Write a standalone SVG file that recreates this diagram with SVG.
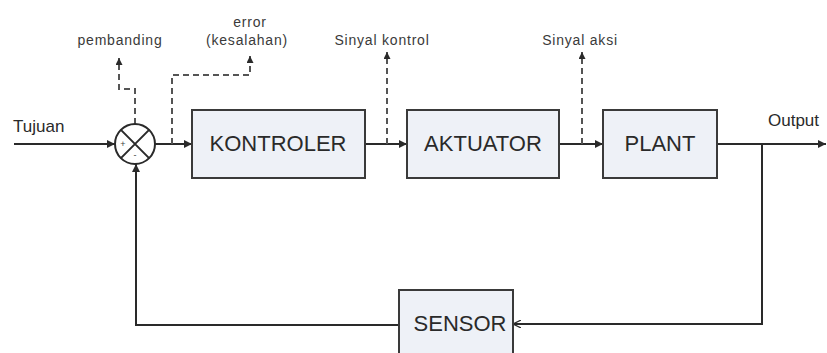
<svg xmlns="http://www.w3.org/2000/svg" width="827" height="353" viewBox="0 0 827 353">
<defs>
<marker id="ah" viewBox="0 0 10 10" refX="10" refY="5" markerWidth="10" markerHeight="8" markerUnits="userSpaceOnUse" orient="auto">
<path d="M0,0 L10,5 L0,10 Z" fill="#2a2a2a"/>
</marker>
<marker id="ahs" viewBox="0 0 10 10" refX="10" refY="5" markerWidth="8" markerHeight="7" markerUnits="userSpaceOnUse" orient="auto">
<path d="M0,0 L10,5 L0,10 Z" fill="#2a2a2a"/>
</marker>
<marker id="aho" viewBox="0 0 10 10" refX="10" refY="5" markerWidth="8" markerHeight="8" markerUnits="userSpaceOnUse" orient="auto">
<path d="M0,0 L10,5 L0,10" fill="none" stroke="#2a2a2a" stroke-width="1.5"/>
</marker>
</defs>
<style>
.box{fill:#eef1f7;stroke:#3a3a3a;stroke-width:2}
.bt{font-family:"Liberation Sans",Arial,sans-serif;font-size:22px;fill:#2a2a2a;text-anchor:middle}
.lb{font-family:"Liberation Sans",Arial,sans-serif;font-size:17px;fill:#2a2a2a}
.sm{font-family:"Liberation Sans",Arial,sans-serif;font-size:14px;fill:#3a3a3a;letter-spacing:0.8px;text-anchor:middle}
.ln{fill:none;stroke:#2a2a2a;stroke-width:2}
.dl{fill:none;stroke:#555;stroke-width:2;stroke-dasharray:6,4}
</style>
<rect width="827" height="353" fill="#ffffff"/>
<g id="connectors">
<path class="ln" d="M14,144 L115,144" marker-end="url(#ah)"/>
<path class="ln" d="M155,144 L192,144" marker-end="url(#ah)"/>
<path class="ln" d="M365,144 L407,144" marker-end="url(#ah)"/>
<path class="ln" d="M559,144 L603,144" marker-end="url(#ah)"/>
<path class="ln" d="M717,144 L826,144" marker-end="url(#ah)"/>
<path class="ln" d="M762,144 L762,324 L513,324" marker-end="url(#aho)"/>
<path class="ln" d="M400,325 L136,325 L136,164" marker-end="url(#ah)"/>
<path class="dl" d="M135,124 L135,89 L119,89 L119,58" marker-end="url(#ahs)"/>
<path class="dl" d="M172,144 L172,75 L250,75 L250,56" marker-end="url(#ahs)"/>
<path class="dl" d="M387,144 L387,52" marker-end="url(#ahs)"/>
<path class="dl" d="M582,144 L582,52" marker-end="url(#ahs)"/>
</g>
<g id="comparator">
<circle cx="135" cy="144" r="20" fill="#ffffff" stroke="#2a2a2a" stroke-width="2"/>
<path d="M120.9,129.9 L149.1,158.1 M149.1,129.9 L120.9,158.1" stroke="#2a2a2a" stroke-width="2"/>
<text x="123" y="147" font-family="Liberation Sans,Arial,sans-serif" font-size="9" fill="#444" text-anchor="middle">+</text>
<text x="135" y="158" font-family="Liberation Sans,Arial,sans-serif" font-size="9" fill="#444" text-anchor="middle">-</text>
</g>
<g id="kontroler">
<rect class="box" x="192" y="110" width="173" height="68"/>
<text class="bt" x="278" y="151">KONTROLER</text>
</g>
<g id="aktuator">
<rect class="box" x="407" y="110" width="152" height="68"/>
<text class="bt" x="483" y="151">AKTUATOR</text>
</g>
<g id="plant">
<rect class="box" x="603" y="110" width="114" height="68"/>
<text class="bt" x="660" y="151">PLANT</text>
</g>
<g id="sensor">
<rect class="box" x="399" y="290" width="114" height="70"/>
<text class="bt" x="460" y="331">SENSOR</text>
</g>
<g id="labels">
<text class="lb" x="13" y="132">Tujuan</text>
<text class="lb" x="768" y="126">Output</text>
<text class="sm" x="120" y="45">pembanding</text>
<text class="sm" x="250" y="27">error</text>
<text class="sm" x="247" y="45">(kesalahan)</text>
<text class="sm" x="382" y="45">Sinyal kontrol</text>
<text class="sm" x="580" y="45">Sinyal aksi</text>
</g>
</svg>
